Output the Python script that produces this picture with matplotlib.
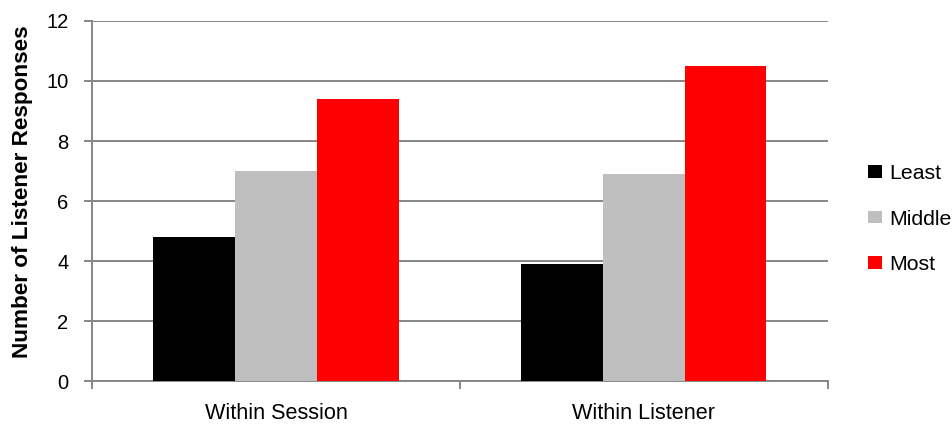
import matplotlib
matplotlib.use("Agg")
import matplotlib.pyplot as plt
import numpy as np
from matplotlib.patches import Patch

categories = ["Within Session", "Within Listener"]
series_names = ["Least", "Middle", "Most"]
least = [4.8, 3.9]
middle = [7.0, 6.9]
most = [9.4, 10.5]
series_values = [least, middle, most]
colors = ["#000000", "#bfbfbf", "#ff0000"]
y_ticks = [0, 2, 4, 6, 8, 10, 12]

plt.rcParams["font.family"] = ["Liberation Sans", "DejaVu Sans"]

fig = plt.figure(figsize=(9.52, 4.25), dpi=100)
ax = fig.add_axes([0.0966, 0.1035, 0.7731, 0.8471])

grid_color = "#868686"
x = np.arange(len(categories))
width = 0.222
for i, (vals, col) in enumerate(zip(series_values, colors)):
    ax.bar(x + (i - 1) * width, vals, width, color=col, zorder=3, linewidth=0)

ax.set_xlim(-0.5, len(categories) - 0.5)
ax.set_ylim(0, 12)
ax.set_yticks(y_ticks)
ax.set_yticklabels([str(t) for t in y_ticks], fontsize=14.5)
ax.yaxis.grid(True, color=grid_color, linewidth=1.4, zorder=0)
ax.set_axisbelow(True)

# category boundaries carry the tick marks, labels sit at group centres
ax.set_xticks(np.arange(-0.5, len(categories)), minor=False)
ax.set_xticklabels([])
ax.set_xticks(x, minor=True)
ax.set_xticklabels(categories, minor=True, fontsize=15.6)
ax.tick_params(axis="x", which="major", length=6, width=1.4, color=grid_color, direction="out")
ax.tick_params(axis="x", which="minor", length=0, pad=16)
ax.tick_params(axis="y", length=6, width=1.4, color=grid_color, direction="out", pad=11)

for side in ("top", "right"):
    ax.spines[side].set_visible(False)
for side in ("left", "bottom"):
    ax.spines[side].set_color(grid_color)
    ax.spines[side].set_linewidth(1.4)

ax.set_ylabel("Number of Listener Responses", fontsize=16.2, fontweight="bold")
ax.yaxis.set_label_coords(-0.0802, 0.526)

handles = [Patch(facecolor=c, edgecolor="none") for c in colors]
fig.legend(handles, series_names, loc="center left", bbox_to_anchor=(0.9118, 0.4847),
           frameon=False, fontsize=15.3, handlelength=0.66, handleheight=0.56,
           handletextpad=0.33, labelspacing=1.25, borderaxespad=0, borderpad=0)

fig.savefig("out.png", dpi=100)
